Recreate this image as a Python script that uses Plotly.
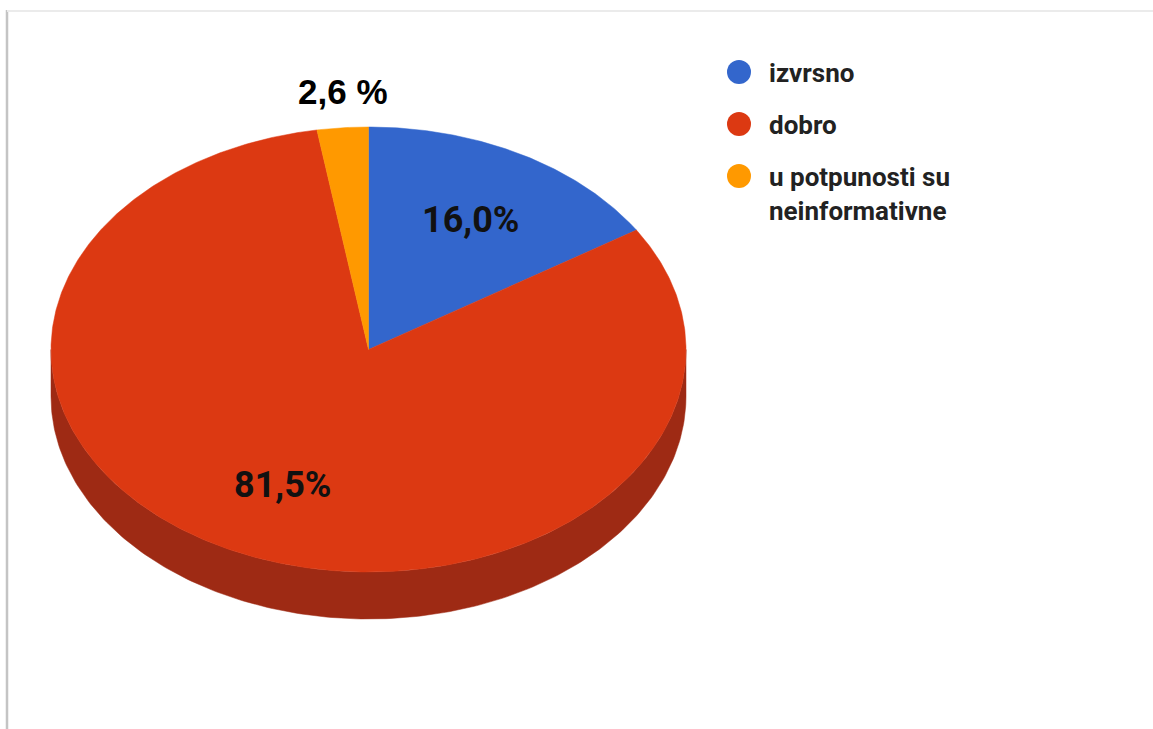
import numpy as np
import plotly.graph_objects as go

# ---- data ----
categories = ["izvrsno", "dobro", "u potpunosti su<br>neinformativne"]
values = [16.0, 81.5, 2.6]
value_labels = ["16,0%", "81,5%", "2,6 %"]
colors = ["#3366CC", "#DC3912", "#FF9900"]
side_colors = ["#22448A", "#9E2A14", "#B06A00"]

# ---- geometry (pixel space) ----
W, H = 1153, 729
cx, cy = 368.5, 349.5
rx, ry = 317.5, 222.5
depth = 47
label_frac = 0.665

total = sum(values)
fracs = [v / total for v in values]
starts = np.cumsum([0] + fracs[:-1]) * 360.0
ends = starts + np.array(fracs) * 360.0


def pt(theta_deg, dy=0.0):
    t = np.radians(theta_deg)
    return cx + rx * np.sin(t), cy - ry * np.cos(t) + dy


fig = go.Figure()

# side walls (front half: 90..270 deg)
for i in range(len(values)):
    a0, a1 = max(starts[i], 90.0), min(ends[i], 270.0)
    if a1 <= a0:
        continue
    th = np.linspace(a0, a1, 200)
    xt, yt = pt(th)
    xb, yb = pt(th[::-1], depth)
    xs = np.concatenate([xt, xb, xt[:1]])
    ys = np.concatenate([yt, yb, yt[:1]])
    fig.add_trace(go.Scatter(x=xs, y=ys, mode="lines", fill="toself",
                             fillcolor=side_colors[i],
                             line=dict(color=side_colors[i], width=0.5),
                             hoverinfo="skip", showlegend=False))

# top face slices
for i in range(len(values)):
    th = np.linspace(starts[i], ends[i], max(int((ends[i] - starts[i]) * 2), 20))
    xa, ya = pt(th)
    xs = np.concatenate([[cx], xa, [cx]])
    ys = np.concatenate([[cy], ya, [cy]])
    fig.add_trace(go.Scatter(x=xs, y=ys, mode="lines", fill="toself",
                             fillcolor=colors[i],
                             line=dict(color=colors[i], width=0.5),
                             name=categories[i], hoverinfo="skip", showlegend=False))

annotations = []
# value labels
for i in range(len(values)):
    mid = (starts[i] + ends[i]) / 2
    if values[i] < 5:
        lx, ly = pt(mid)
        ly = cy + (ly - cy) * 1.163
        annotations.append(dict(x=lx, y=ly, text=value_labels[i], showarrow=False,
                                font=dict(family="Liberation Sans, Arial", size=35,
                                          color="#000000", weight="bold"),
                                xanchor="center", yanchor="middle"))
    else:
        px, py = pt(mid)
        lx = cx + (px - cx) * label_frac
        ly = cy + (py - cy) * label_frac
        annotations.append(dict(x=lx, y=ly, text=value_labels[i], showarrow=False,
                                font=dict(family="Roboto", size=36,
                                          color="#111111", weight="bold"),
                                xanchor="center", yanchor="middle"))

# legend
leg_x, leg_y0, leg_dy = 739, 72, 52
leg_ys = [leg_y0 + k * leg_dy for k in range(len(categories))]
fig.add_trace(go.Scatter(x=[leg_x] * len(categories), y=leg_ys, mode="markers",
                         marker=dict(size=24, color=colors, line=dict(width=0)),
                         hoverinfo="skip", showlegend=False))
for k, c in enumerate(categories):
    annotations.append(dict(x=leg_x + 28, y=leg_ys[k] - 16, text=c, showarrow=False,
                            font=dict(family="Roboto", size=26, color="#222222",
                                      weight="bold"),
                            xanchor="left", yanchor="top", align="left"))

shapes = [
    dict(type="line", xref="x", yref="y", x0=7, x1=7, y0=10, y1=H,
         line=dict(color="#c4c4c4", width=2.5)),
    dict(type="line", xref="x", yref="y", x0=7, x1=W, y0=11, y1=11,
         line=dict(color="#ebebeb", width=2)),
]

fig.update_layout(
    width=W, height=H,
    margin=dict(l=0, r=0, t=0, b=0),
    paper_bgcolor="white", plot_bgcolor="white",
    xaxis=dict(range=[0, W], visible=False, fixedrange=True),
    yaxis=dict(range=[H, 0], visible=False, fixedrange=True),
    annotations=annotations,
    shapes=shapes,
)

fig.write_html(
    "out.html",
    config={"displayModeBar": False, "staticPlot": True},
    post_script="document.body.style.margin='0';document.body.style.overflow='hidden';",
)
